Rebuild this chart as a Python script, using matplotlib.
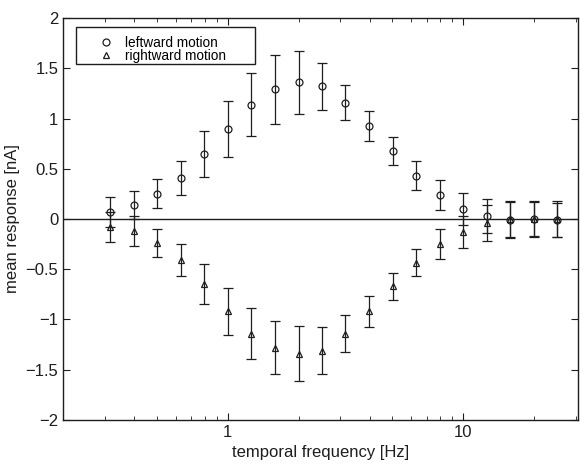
import matplotlib
matplotlib.use("Agg")
import matplotlib.pyplot as plt
from matplotlib.lines import Line2D
from matplotlib.patches import Rectangle
from matplotlib.ticker import FuncFormatter, FixedLocator, NullFormatter

plt.rcParams['font.family'] = ['Liberation Sans', 'DejaVu Sans']

# temporal frequencies [Hz]
freq = [0.316, 0.398, 0.501, 0.631, 0.794, 1.0, 1.26, 1.58, 2.0, 2.51,
        3.16, 3.98, 5.01, 6.31, 7.94, 10.0, 12.6, 15.8, 20.0, 25.1]

# leftward motion: mean and error
left_mean = [0.07, 0.14, 0.25, 0.41, 0.65, 0.90, 1.14, 1.29, 1.36, 1.32,
             1.16, 0.93, 0.68, 0.43, 0.235, 0.10, 0.03, -0.01, 0.0, -0.01]
left_err = [0.15, 0.14, 0.145, 0.17, 0.23, 0.28, 0.31, 0.34, 0.31, 0.23,
            0.17, 0.15, 0.14, 0.145, 0.15, 0.16, 0.17, 0.18, 0.17, 0.17]

# rightward motion: mean and error
right_mean = [-0.08, -0.12, -0.235, -0.41, -0.65, -0.92, -1.14, -1.28, -1.34, -1.31,
              -1.14, -0.92, -0.67, -0.435, -0.245, -0.125, -0.04, 0.0, 0.0, 0.0]
right_err = [0.15, 0.15, 0.14, 0.16, 0.20, 0.23, 0.255, 0.265, 0.27, 0.23,
             0.18, 0.155, 0.135, 0.135, 0.15, 0.16, 0.18, 0.18, 0.18, 0.18]

labels = ['leftward motion', 'rightward motion']

ink = '#1e1e1e'

fig = plt.figure(figsize=(5.8, 4.66), dpi=100)
ax = fig.add_axes([0.109, 0.099, 0.888, 0.862])

ax.axhline(0, color=ink, lw=1.0, zorder=1)

ax.errorbar(freq, left_mean, yerr=left_err, fmt='o', mfc='none', mec=ink,
            ms=5, mew=0.9, ecolor=ink, elinewidth=0.9, capsize=3.5,
            capthick=0.9)
ax.errorbar(freq, right_mean, yerr=right_err, fmt='^', mfc='none', mec=ink,
            ms=5, mew=0.9, ecolor=ink, elinewidth=0.9, capsize=3.5,
            capthick=0.9)

ax.set_xscale('log')
ax.set_xlim(0.2, 30.8)
ax.set_ylim(-2, 2)

ax.xaxis.set_major_locator(FixedLocator([1, 10]))
ax.xaxis.set_major_formatter(FuncFormatter(lambda v, p: f'{v:g}'))
ax.xaxis.set_minor_formatter(NullFormatter())
ax.set_yticks([-2, -1.5, -1, -0.5, 0, 0.5, 1, 1.5, 2])
ax.yaxis.set_major_formatter(FuncFormatter(lambda v, p: f'{v:g}'.replace('-', '\u2212')))

ax.tick_params(which='both', direction='in', top=True, right=True, colors=ink,
               labelsize=12)
ax.tick_params(which='major', length=5)
ax.tick_params(which='minor', length=3)
for s in ax.spines.values():
    s.set_color(ink)
    s.set_linewidth(1.0)

ax.set_xlabel('temporal frequency [Hz]', fontsize=12, color=ink)
ax.set_ylabel('mean response [nA]', fontsize=12, color=ink)

# legend: markers only, inside a wide box like the original
handles = [Line2D([], [], ls='none', marker='o', mfc='none', mec=ink, ms=5, mew=0.9),
           Line2D([], [], ls='none', marker='^', mfc='none', mec=ink, ms=5, mew=0.9)]
ax.legend(handles, labels, loc='upper left', bbox_to_anchor=(0.048, 0.963),
          fontsize=9.8, frameon=False, handlelength=2.2, handletextpad=0.3,
          borderpad=0.2, labelspacing=-0.05, borderaxespad=0)
ax.add_patch(Rectangle((0.025, 0.886), 0.348, 0.092, transform=ax.transAxes,
                       fill=False, edgecolor=ink, lw=1.0, zorder=5))

fig.savefig('out.png', dpi=100)
